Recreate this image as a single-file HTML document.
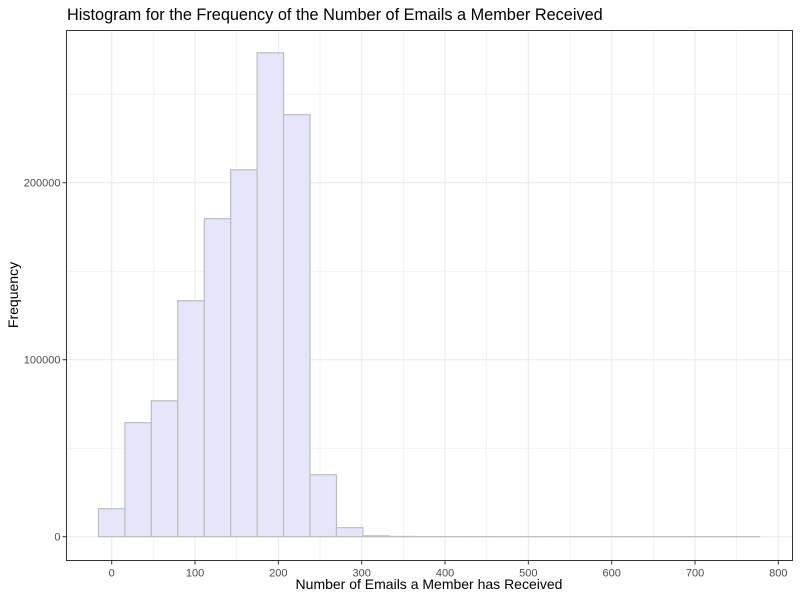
<!DOCTYPE html>
<html><head><meta charset="utf-8"><style>
body{margin:0;background:#fff;font-family:"Liberation Sans",Arial,sans-serif}
</style></head><body>
<svg id="chart" width="800" height="600" xmlns="http://www.w3.org/2000/svg" font-family="Liberation Sans, Arial, sans-serif">
<rect width="800" height="600" fill="#fff"/>
<text x="67" y="20" font-size="16.3" fill="#000">Histogram for the Frequency of the Number of Emails a Member Received</text>
<g id="grid"></g><g id="bars"></g><g id="axes"></g>
<rect x="66.5" y="30.5" width="726" height="530" fill="none" stroke="#333" stroke-width="1"/>
<text x="429" y="589" font-size="14" text-anchor="middle">Number of Emails a Member has Received</text>
<text transform="translate(18,295) rotate(-90)" font-size="14" text-anchor="middle">Frequency</text>
</svg>
<script>
const binCenters = [0,31.73,63.46,95.19,126.92,158.65,190.38,222.11,253.84,285.57,317.3,349,380.8,412.5,444.2,476,507.7,539.4,571.1,602.9,634.6,666.3,698,729.8,761.5];
const counts = [15800,64400,76800,133300,179700,207300,273400,238400,35000,5100,500,150,60,30,20,10,10,5,5,5,3,3,2,2,2];
const xTicks = [0,100,200,300,400,500,600,700,800];
const yTicks = [0,100000,200000];
const binWidth = 31.73;
const NS="http://www.w3.org/2000/svg";
const x = v => 111.7 + v*0.8333;
const y = v => 536.7 - v*0.00177;
const L=66.5,R=792.5,T=30.5,B=560.5;
function mk(t,a,parent){const e=document.createElementNS(NS,t);for(const k in a)e.setAttribute(k,a[k]);document.getElementById(parent).appendChild(e);return e;}
for(let v=-50;v<=800;v+=50){const px=x(v);if(px<L||px>R)continue;
 const g=mk('line',{x1:px,x2:px,y1:T,y2:B,stroke:'#ebebeb','stroke-width':v%100===0?1.1:0.6},'grid');
 
 }
for(let v=0;v<=300000;v+=50000){const py=y(v);if(py<T)continue;
 const g=mk('line',{x1:L,x2:R,y1:py,y2:py,stroke:'#ebebeb','stroke-width':v%100000===0?1.1:0.6},'grid');
 
 }
binCenters.forEach((c,i)=>{
 const x0=x(c-binWidth/2),x1=x(c+binWidth/2),top=y(counts[i]);
 const r=mk('rect',{x:x0,y:top,width:x1-x0,height:y(0)-top,fill:'#e6e6fa',stroke:'#bdbdbd','stroke-width':1.2},'bars');
 
 
});
xTicks.forEach(v=>{const px=x(v);
 const t=mk('line',{x1:px,x2:px,y1:B,y2:B+4,stroke:'#333'},'axes');
 
 
 const l=mk('text',{x:px,y:B+16,'font-size':11,fill:'#4d4d4d','text-anchor':'middle'},'axes');
 l.textContent=v;
 
 });
yTicks.forEach(v=>{const py=y(v);
 const t=mk('line',{x1:L-4,x2:L,y1:py,y2:py,stroke:'#333'},'axes');
 
 
 const l=mk('text',{x:L-6,y:py+4,'font-size':11,fill:'#4d4d4d','text-anchor':'end'},'axes');
 l.textContent=v;
 
 });
</script>
</body></html>
